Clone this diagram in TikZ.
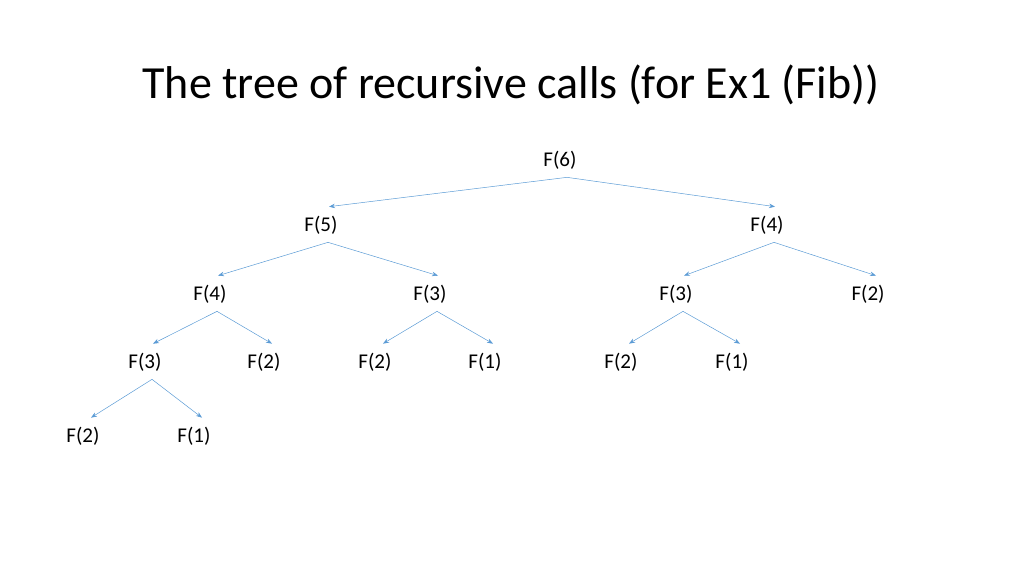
\documentclass[tikz,border=0pt]{standalone}
\usepackage{fontspec}
\setmainfont{Carlito}
\usetikzlibrary{arrows.meta}
\definecolor{callblue}{RGB}{91,155,213}
\tikzset{
    call/.style={inner sep=0pt, font=\fontsize{21}{24}\selectfont},
    link/.style={callblue, line width=0.5pt, -{Stealth[length=6pt,width=4.5pt]}}
}
\begin{document}
\begin{tikzpicture}[x=1pt,y=-1pt]
    \useasboundingbox (0,0) rectangle (1024,576);
    \node (title) at (511,85) {\fontsize{46}{50}\selectfont The tree of recursive calls (for Ex1 (Fib))};

    % levels of the tree
    \node [call] (f6)   at (560,160) {F(6)};
    \node [call] (f5)   at (321,225) {F(5)};
    \node [call] (f4r)  at (767,225) {F(4)};
    \node [call] (f4)   at (210,294) {F(4)};
    \node [call] (f3m)  at (430,294) {F(3)};
    \node [call] (f3r)  at (676,294) {F(3)};
    \node [call] (f2r)  at (868,294) {F(2)};
    \node [call] (f3)   at (145,362) {F(3)};
    \node [call] (f2a)  at (264,362) {F(2)};
    \node [call] (f2b)  at (375,362) {F(2)};
    \node [call] (f1b)  at (485,362) {F(1)};
    \node [call] (f2c)  at (621,362) {F(2)};
    \node [call] (f1c)  at (732,362) {F(1)};
    \node [call] (f2d)  at (83,436)  {F(2)};
    \node [call] (f1d)  at (194,436) {F(1)};

    % calls
    \foreach \p/\c in {f6/f5, f6/f4r, f5/f4, f5/f3m, f4r/f3r, f4r/f2r,
                       f4/f3, f4/f2a, f3m/f2b, f3m/f1b, f3r/f2c, f3r/f1c,
                       f3/f2d, f3/f1d}
        \draw [link] ([xshift=7, yshift=-8]\p.south) -- ([xshift=8, yshift=9]\c.north);
\end{tikzpicture}
\end{document}
